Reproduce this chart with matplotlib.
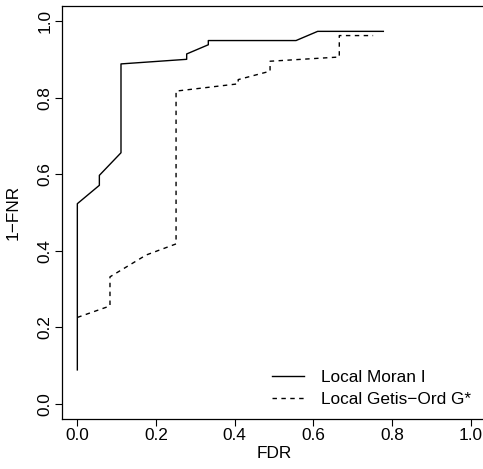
import matplotlib.pyplot as plt

plt.rcParams['font.family'] = ['Liberation Sans', 'DejaVu Sans']

# Local Moran I (solid)
moran_fdr = [0.0, 0.0, 0.056, 0.056, 0.111, 0.111, 0.278, 0.278, 0.333, 0.333, 0.556, 0.611, 0.778]
moran_tpr = [0.089, 0.523, 0.571, 0.597, 0.656, 0.888, 0.900, 0.914, 0.938, 0.949, 0.949, 0.973, 0.973]

# Local Getis-Ord G* (dashed)
getis_fdr = [0.0, 0.083, 0.083, 0.175, 0.251, 0.251, 0.409, 0.409, 0.490, 0.490, 0.666, 0.666, 0.752]
getis_tpr = [0.226, 0.256, 0.332, 0.389, 0.418, 0.817, 0.836, 0.847, 0.869, 0.895, 0.906, 0.962, 0.962]

ticks = [0.0, 0.2, 0.4, 0.6, 0.8, 1.0]
tick_labels = ["0.0", "0.2", "0.4", "0.6", "0.8", "1.0"]

fs = 12.4

fig = plt.figure(figsize=(4.83, 4.69), dpi=100)
ax = fig.add_axes([61.6 / 483, 49.7 / 469, 424.8 / 483, 413.6 / 469])

ax.plot(moran_fdr, moran_tpr, color="black", lw=1.0, label="Local Moran I")
ax.plot(getis_fdr, getis_tpr, color="black", lw=1.0, dashes=(3.2, 3.2),
        label="Local Getis\u2212Ord G*")

ax.set_xlim(-0.04, 1.04)
ax.set_ylim(-0.04, 1.04)
ax.set_xticks(ticks)
ax.set_xticklabels(tick_labels)
ax.set_yticks(ticks)
ax.set_yticklabels(tick_labels, rotation=90, va="center")
ax.tick_params(direction="out", length=5, width=0.8, labelsize=fs, pad=1.5)
for s in ax.spines.values():
    s.set_linewidth(0.9)

ax.set_xlabel("FDR", fontsize=fs, labelpad=2)
ax.set_ylabel("1\u2212FNR", fontsize=fs, labelpad=12)

ax.legend(loc="lower left", bbox_to_anchor=(0.495, 0.03), frameon=False,
          fontsize=fs, handlelength=1.84, handletextpad=1.0, labelspacing=0.42,
          borderpad=0, borderaxespad=0)

fig.savefig("out.png", dpi=100)
